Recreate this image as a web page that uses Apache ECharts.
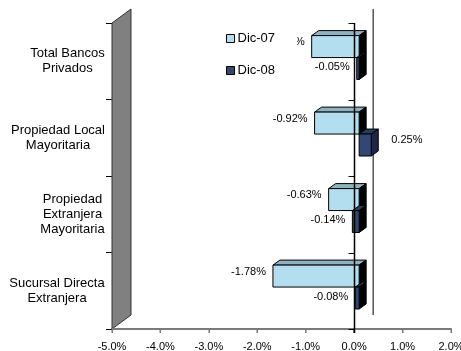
<!DOCTYPE html>
<html>
<head>
<meta charset="utf-8">
<script src="https://cdn.jsdelivr.net/npm/echarts@6/dist/echarts.min.js"></script>
<style>
  html, body { margin: 0; padding: 0; background: #fff; }
  #chart { width: 461px; height: 351px; }
</style>
</head>
<body>
<div id="chart"></div>
<script>
const categories = [
  "Total Bancos\nPrivados",
  "Propiedad Local\nMayoritaria",
  "Propiedad\nExtranjera\nMayoritaria",
  "Sucursal Directa\nExtranjera"
];
const dic07 = [-0.98, -0.92, -0.63, -1.78];
const dic08 = [-0.05, 0.25, -0.14, -0.08];
const xTicks = [-5, -4, -3, -2, -1, 0, 1, 2];

const FONT = "Liberation Sans, Arial, sans-serif";
const chart = echarts.init(document.getElementById("chart"));

// 3D look: bars sit a little behind the front plane
const SHIFT = [5, -3.7];
const DEPTH = [7, -5];
const WALL = [19, -14];

const palettes = [
  { front: "#b3def0", top: "#8fb2c1", side: "#000000" },
  { front: "#344672", top: "#2b3a5f", side: "#1d2745" }
];

const measure = document.createElement("canvas").getContext("2d");

// category label blocks: right aligned, lines centred inside each block
measure.font = "13px " + FONT;
const labelRich = {};
categories.forEach((c, i) => {
  const w = Math.max(...c.split("\n").map((l) => measure.measureText(l).width));
  labelRich["c" + i] = { width: Math.ceil(w), align: "center", fontSize: 13, lineHeight: 15, fontFamily: FONT, color: "#000" };
});

function textWidth(t) {
  measure.font = "11px " + FONT;
  return measure.measureText(t).width;
}

function barItem(idx) {
  return function (params, api) {
    const cat = api.value(0);
    const v = api.value(1);
    const z = api.coord([0, cat]);
    const e = api.coord([v, cat]);
    const band = api.size([0, 1])[1];
    const h = band * 0.287;
    const yTop = z[1] + (idx === 0 ? -h : 0) + SHIFT[1];
    const yBot = yTop + h;
    const xl = Math.min(z[0], e[0]) + SHIFT[0];
    const xr = Math.max(z[0], e[0]) + SHIFT[0];
    const pal = palettes[idx];
    const sideColor = v < 0 ? "#000" : pal.side;
    const line = { stroke: "#000", lineWidth: 1 };
    const children = [
      {
        type: "polygon",
        shape: { points: [[xl, yTop], [xr, yTop], [xr + DEPTH[0], yTop + DEPTH[1]], [xl + DEPTH[0], yTop + DEPTH[1]]] },
        style: Object.assign({ fill: pal.top }, line)
      },
      {
        type: "polygon",
        shape: { points: [[xr, yTop], [xr + DEPTH[0], yTop + DEPTH[1]], [xr + DEPTH[0], yBot + DEPTH[1]], [xr, yBot]] },
        style: Object.assign({ fill: sideColor }, line)
      },
      {
        type: "rect",
        shape: { x: xl, y: yTop, width: xr - xl, height: h },
        style: Object.assign({ fill: pal.front }, line)
      }
    ];
    const txt = v.toFixed(2) + "%";
    const mid = (yTop + yBot) / 2;
    let lx, ly;
    if (v < 0) {
      lx = xl - 7 - textWidth(txt);
      ly = idx === 0 ? mid - 4 : mid - 1;
    } else {
      lx = xr + 20;
      ly = mid - 5;
    }
    children.push({
      type: "text",
      x: lx,
      y: ly - 6,
      style: {
        text: txt,
        fill: "#000",
        fontSize: 11,
        fontFamily: FONT,
        align: "left",
        verticalAlign: "top",
        legacy: false
      }
    });
    return { type: "group", children: children };
  };
}

function wallItem(params, api) {
  const cs = params.coordSys;
  const x0 = api.coord([-5, 0])[0];
  const zx = api.coord([0, 0])[0];
  const top = cs.y, bot = cs.y + cs.height;
  return {
    type: "group",
    children: [
      {
        type: "polygon",
        shape: { points: [[x0, top], [x0 + WALL[0], top + WALL[1]], [x0 + WALL[0], bot + WALL[1]], [x0, bot]] },
        style: { fill: "#808080", stroke: "#333", lineWidth: 1 }
      },
      {
        type: "line",
        shape: { x1: zx + WALL[0], y1: top + WALL[1], x2: zx + WALL[0], y2: bot + WALL[1] },
        style: { stroke: "#000", lineWidth: 1 }
      }
    ]
  };
}

// front plane: value-axis baseline with ticks, zero line with category ticks
function frontItem(params, api) {
  const cs = params.coordSys;
  const zx = Math.round(api.coord([0, 0])[0]) + 0.5;
  const top = cs.y, bot = Math.round(cs.y + cs.height);
  const children = [
    {
      type: "rect",
      shape: { x: cs.x, y: bot - 1, width: cs.width, height: 2 },
      style: { fill: "#7a7a7a" }
    }
  ];
  xTicks.forEach((t) => {
    const tx = Math.round(api.coord([t, 0])[0]);
    children.push({
      type: "rect",
      shape: { x: tx - 0.5, y: bot, width: 1, height: 4 },
      style: { fill: t === 0 ? "#000" : "#7a7a7a" }
    });
  });
  children.push({
    type: "line",
    shape: { x1: zx, y1: top, x2: zx, y2: bot + 4 },
    style: { stroke: "#000", lineWidth: 1.5 }
  });
  for (let i = 0; i <= categories.length; i++) {
    const y = Math.round(top + (cs.height * i) / categories.length) + 0.5;
    children.push({
      type: "line",
      shape: { x1: zx - 6, y1: y, x2: zx, y2: y },
      style: { stroke: "#000", lineWidth: 1 }
    });
  }
  return { type: "group", children: children };
}

const options = {
  animation: false,
  backgroundColor: "#fff",
  grid: { left: 112, right: 10, top: 23, bottom: 22, outerBoundsMode: "none", containLabel: false },
  legend: {
    orient: "vertical",
    left: 222,
    top: 28,
    data: ["Dic-07", "Dic-08"],
    icon: "rect",
    itemWidth: 8,
    itemHeight: 8,
    itemGap: 19,
    padding: [4, 22, 4, 4],
    backgroundColor: "#fff",
    itemStyle: { borderColor: "#000", borderWidth: 1 },
    textStyle: { fontSize: 13, fontFamily: FONT, color: "#000", padding: [0, 0, 0, -2] },
    z: 10
  },
  xAxis: {
    type: "value",
    min: -5,
    max: 2,
    interval: 1,
    axisLine: { show: true, onZero: false, lineStyle: { color: "#7a7a7a", width: 2 } },
    axisTick: { show: true, length: 4, lineStyle: { color: "#7a7a7a", width: 1 } },
    splitLine: { show: false },
    axisLabel: {
      fontSize: 11,
      fontFamily: FONT,
      color: "#000",
      margin: 12,
      formatter: (v) => (xTicks.includes(v) ? v.toFixed(1) + "%" : "")
    }
  },
  yAxis: {
    type: "category",
    data: categories,
    inverse: true,
    axisLine: { show: true, onZero: false, lineStyle: { color: "#000", width: 1 } },
    axisTick: { show: true, length: 6, lineStyle: { color: "#000", width: 1 } },
    splitLine: { show: false },
    axisLabel: {
      align: "right",
      margin: 7,
      formatter: (val, idx) => val.split("\n").map((l) => "{c" + idx + "|" + l + "}").join("\n"),
      rich: labelRich
    }
  },
  series: [
    {
      type: "custom",
      name: "wall",
      z: 1,
      silent: true,
      clip: false,
      renderItem: wallItem,
      data: [[0, 0]],
      encode: { x: 1, y: 0 }
    },
    {
      type: "custom",
      name: "Dic-07",
      z: 2,
      clip: false,
      itemStyle: { color: palettes[0].front, borderColor: "#000", borderWidth: 1 },
      renderItem: barItem(0),
      data: dic07.map((v, i) => [i, v]),
      encode: { x: 1, y: 0 }
    },
    {
      type: "custom",
      name: "Dic-08",
      z: 2,
      clip: false,
      itemStyle: { color: palettes[1].front, borderColor: "#000", borderWidth: 1 },
      renderItem: barItem(1),
      data: dic08.map((v, i) => [i, v]),
      encode: { x: 1, y: 0 }
    },
    {
      type: "custom",
      name: "front",
      z: 8,
      silent: true,
      clip: false,
      renderItem: frontItem,
      data: [[0, 0]],
      encode: { x: 1, y: 0 }
    }
  ]
};

chart.setOption(options);
</script>
</body>
</html>
